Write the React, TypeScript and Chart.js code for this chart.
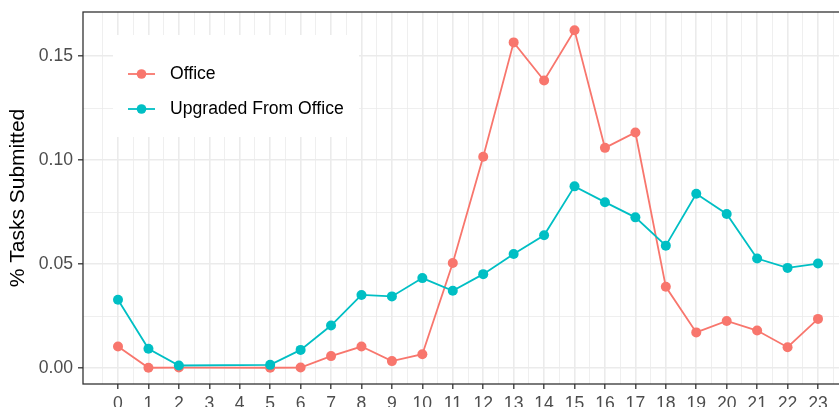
import React, { useEffect, useRef } from "react";
import { Chart, registerables } from "chart.js";

Chart.register(...registerables);

const hours = [0, 1, 2, 5, 6, 7, 8, 9, 10, 11, 12, 13, 14, 15, 16, 17, 18, 19, 20, 21, 22, 23];
const officeValues = [0.0104, 0.0002, 0.0003, 0.0002, 0.0003, 0.0058, 0.0104, 0.0034, 0.0067, 0.0506, 0.1016, 0.1566, 0.1383, 0.1624, 0.1059, 0.1133, 0.0391, 0.0172, 0.0227, 0.0181, 0.0101, 0.0237];
const upgradedValues = [0.0329, 0.0093, 0.0013, 0.0016, 0.0088, 0.0205, 0.0352, 0.0345, 0.0433, 0.0372, 0.0452, 0.0549, 0.0639, 0.0874, 0.0798, 0.0725, 0.0589, 0.0838, 0.0741, 0.0527, 0.0482, 0.0503];
const seriesLabels = ["Office", "Upgraded From Office"];
const seriesColors = ["#F8766D", "#00BFC4"];
const yAxisTitle = "% Tasks Submitted";

const FONT = '"Liberation Sans", Arial, Helvetica, sans-serif';

const isMultiple = (v: number, step: number) => Math.abs(v / step - Math.round(v / step)) < 1e-6;

const panelPlugin = {
  id: "panelDecor",
  afterDraw(chart: any) {
    const { ctx, chartArea } = chart;
    ctx.save();
    ctx.strokeStyle = "#333333";
    ctx.lineWidth = 1.3;
    ctx.strokeRect(chartArea.left, chartArea.top, chartArea.right - chartArea.left, chartArea.bottom - chartArea.top);
    const bx = 113, by = 35, bw = 246, bh = 102;
    ctx.fillStyle = "#FFFFFF";
    ctx.fillRect(bx, by, bw, bh);
    const rows = [74, 109];
    chart.data.datasets.forEach((ds: any, i: number) => {
      const y = rows[i];
      ctx.strokeStyle = ds.borderColor;
      ctx.lineWidth = 1.8;
      ctx.beginPath();
      ctx.moveTo(128, y);
      ctx.lineTo(155, y);
      ctx.stroke();
      ctx.fillStyle = ds.borderColor;
      ctx.beginPath();
      ctx.arc(141.5, y, 4.8, 0, Math.PI * 2);
      ctx.fill();
      ctx.fillStyle = "#000000";
      ctx.font = `17.6px ${FONT}`;
      ctx.textBaseline = "middle";
      ctx.textAlign = "left";
      ctx.fillText(ds.label, 170, y + 0.5);
    });
    ctx.restore();
  },
};

export default function App() {
  const canvasRef = useRef<HTMLCanvasElement | null>(null);

  useEffect(() => {
    const canvas = canvasRef.current;
    if (!canvas) return;
    const chart = new Chart(canvas, {
      type: "line",
      data: {
        datasets: [
          {
            label: seriesLabels[0],
            data: hours.map((h, i) => ({ x: h, y: officeValues[i] })),
            borderColor: seriesColors[0],
            backgroundColor: seriesColors[0],
            pointBackgroundColor: seriesColors[0],
            pointBorderWidth: 0,
            pointRadius: 5,
            borderWidth: 1.8,
            tension: 0,
            order: 2,
          },
          {
            label: seriesLabels[1],
            data: hours.map((h, i) => ({ x: h, y: upgradedValues[i] })),
            borderColor: seriesColors[1],
            backgroundColor: seriesColors[1],
            pointBackgroundColor: seriesColors[1],
            pointBorderWidth: 0,
            pointRadius: 5,
            borderWidth: 1.8,
            tension: 0,
            order: 1,
          },
        ],
      },
      options: {
        responsive: false,
        animation: false,
        devicePixelRatio: 1,
        layout: { padding: { left: 0, top: 12, right: 27, bottom: 0 } },
        plugins: {
          legend: { display: false },
          tooltip: { enabled: false },
        },
        scales: {
          x: {
            type: "linear",
            min: -1.15,
            max: 24.15,
            afterBuildTicks: (scale: any) => {
              const t = [];
              for (let v = -0.5; v <= 23.5 + 1e-9; v += 0.5) t.push({ value: v });
              scale.ticks = t;
            },
            afterFit: (scale: any) => {
              scale.height = 56;
              scale.paddingLeft = 0;
              scale.paddingRight = 0;
            },
            border: { display: false },
            grid: {
              color: "#EBEBEB",
              lineWidth: (ctx: any) => (ctx.tick && isMultiple(ctx.tick.value, 1) ? 1.6 : 0.8),
              tickColor: (ctx: any) => (ctx.tick && isMultiple(ctx.tick.value, 1) ? "#333333" : "rgba(0,0,0,0)"),
              tickWidth: 1.3,
              tickLength: 5,
              drawTicks: true,
            },
            ticks: {
              autoSkip: false,
              maxRotation: 0,
              minRotation: 0,
              padding: 5,
              color: "#4D4D4D",
              font: { family: FONT, size: 17.6 },
              callback: (v: any) => (isMultiple(Number(v), 1) ? String(Math.round(Number(v))) : ""),
            },
          },
          y: {
            type: "linear",
            min: -0.0076,
            max: 0.1712,
            afterBuildTicks: (scale: any) => {
              const t = [];
              for (let i = 0; i <= 6; i++) t.push({ value: i * 0.025 });
              scale.ticks = t;
            },
            afterFit: (scale: any) => {
              scale.width = 83;
              scale.paddingTop = 0;
              scale.paddingBottom = 0;
            },
            border: { display: false },
            grid: {
              color: "#EBEBEB",
              lineWidth: (ctx: any) => (ctx.tick && isMultiple(ctx.tick.value, 0.05) ? 1.6 : 0.8),
              tickColor: (ctx: any) => (ctx.tick && isMultiple(ctx.tick.value, 0.05) ? "#333333" : "rgba(0,0,0,0)"),
              tickWidth: 1.3,
              tickLength: 5,
              drawTicks: true,
            },
            ticks: {
              autoSkip: false,
              padding: 5,
              color: "#4D4D4D",
              font: { family: FONT, size: 17.6 },
              callback: (v: any) => (isMultiple(Number(v), 0.05) ? Number(v).toFixed(2) : ""),
            },
            title: {
              display: true,
              text: yAxisTitle,
              color: "#000000",
              font: { family: FONT, size: 21 },
              padding: { top: 6, bottom: 0 },
            },
          },
        },
      },
      plugins: [panelPlugin],
    });
    return () => chart.destroy();
  }, []);

  return (
    <div
      style={{
        position: "fixed",
        left: 0,
        top: 0,
        width: 839,
        height: 407,
        overflow: "hidden",
        background: "#FFFFFF",
      }}
    >
      <canvas ref={canvasRef} width={880} height={440} style={{ width: 880, height: 440, display: "block" }} />
    </div>
  );
}
